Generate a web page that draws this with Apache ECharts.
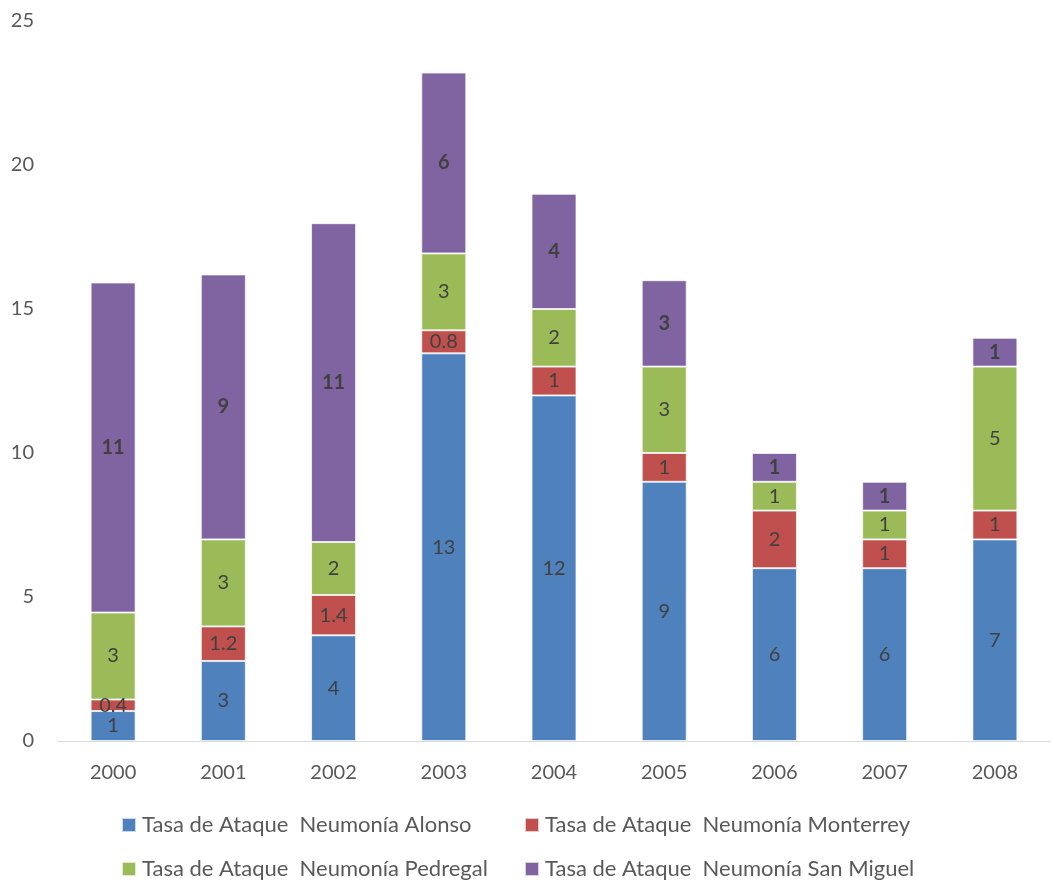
<!DOCTYPE html>
<html>
<head>
<meta charset="utf-8">
<script src="https://cdn.jsdelivr.net/npm/echarts@6/dist/echarts.min.js"></script>
<style>
  html, body { margin: 0; padding: 0; background: #fff; }
  #chart { width: 1052px; height: 884px; }
</style>
</head>
<body>
<div id="chart"></div>
<script>
const years = ['2000', '2001', '2002', '2003', '2004', '2005', '2006', '2007', '2008'];
const alonso = [1.04, 2.78, 3.67, 13.46, 12, 9, 6, 6, 7];
const monterrey = [0.4, 1.2, 1.4, 0.8, 1, 1, 2, 1, 1];
const pedregal = [3.02, 3.02, 1.84, 2.67, 2, 3, 1, 1, 5];
const sanMiguel = [11.46, 9.2, 11.07, 6.28, 4, 3, 1, 1, 1];
const names = [
  'Tasa de Ataque  Neumonía Alonso',
  'Tasa de Ataque  Neumonía Monterrey',
  'Tasa de Ataque  Neumonía Pedregal',
  'Tasa de Ataque  Neumonía San Miguel'
];
const colors = ['#4F81BD', '#C0504D', '#9BBB59', '#8064A2'];

const font = 'Lato, "Open Sans", sans-serif';
const chart = echarts.init(document.getElementById('chart'));

// etiquetas: enteros salvo Monterrey
const roundLabel = (p) => String(Math.round(p.value));
const plainLabel = (p) => String(p.value);

const mkSeries = (name, data, color, fmt, bold) => ({
  type: 'bar',
  name: name,
  stack: 'total',
  data: data,
  barWidth: 45,
  itemStyle: { color: color, borderColor: 'rgba(255,255,255,0.7)', borderWidth: 1 },
  label: {
    show: true,
    position: 'inside',
    formatter: fmt,
    color: '#404040',
    fontSize: 20,
    fontFamily: font,
    fontWeight: bold ? 'bold' : 'normal'
  }
});

// una leyenda por elemento, en dos columnas
const legendAt = (name, left, top) => ({
  data: [name],
  left: left,
  top: top,
  padding: 0,
  itemWidth: 14,
  itemHeight: 14,
  icon: 'rect',
  textStyle: { color: '#595959', fontSize: 22, fontFamily: font, padding: [0, 0, 0, 1] }
});

chart.setOption({
  animation: false,
  color: colors,
  grid: { left: 58, right: 2, top: 21, bottom: 143, containLabel: false },
  legend: [
    legendAt(names[0], 121, 814),
    legendAt(names[1], 524, 814),
    legendAt(names[2], 121, 858),
    legendAt(names[3], 524, 858)
  ],
  xAxis: {
    type: 'category',
    data: years,
    axisLine: { lineStyle: { color: '#D9D9D9', width: 1 } },
    axisTick: { show: false },
    axisLabel: { color: '#595959', fontSize: 20, fontFamily: font, margin: 22 }
  },
  yAxis: {
    type: 'value',
    min: 0,
    max: 25,
    interval: 5,
    axisLine: { show: false },
    axisTick: { show: false },
    splitLine: { show: false },
    axisLabel: { color: '#595959', fontSize: 20, fontFamily: font, margin: 24 }
  },
  series: [
    mkSeries(names[0], alonso, colors[0], roundLabel, false),
    mkSeries(names[1], monterrey, colors[1], plainLabel, false),
    mkSeries(names[2], pedregal, colors[2], roundLabel, false),
    mkSeries(names[3], sanMiguel, colors[3], roundLabel, true)
  ]
});
</script>
</body>
</html>
